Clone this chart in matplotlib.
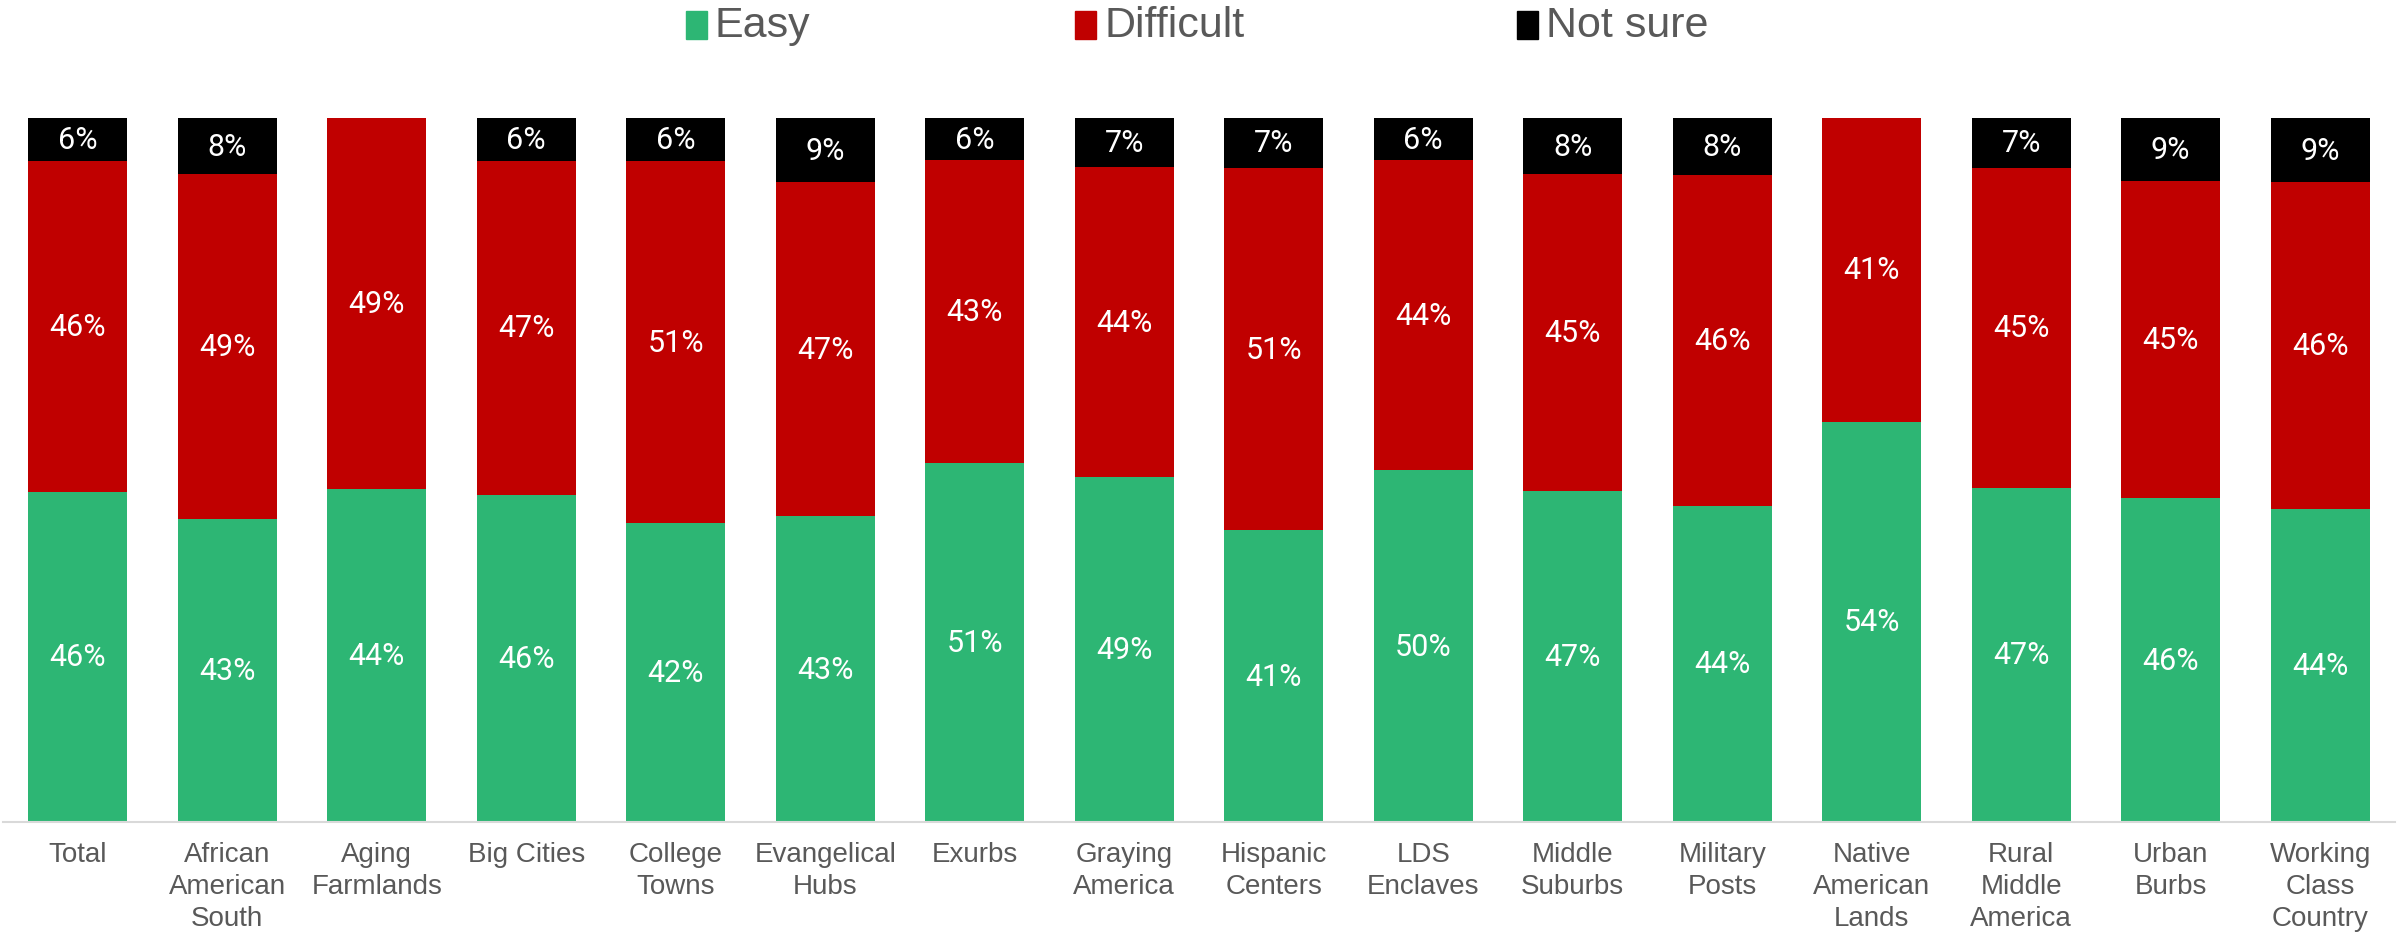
import matplotlib
matplotlib.use("Agg")
import matplotlib.pyplot as plt
from matplotlib.patches import Rectangle
import numpy as np

categories = ["Total", "African\nAmerican\nSouth", "Aging\nFarmlands", "Big Cities",
              "College\nTowns", "Evangelical\nHubs", "Exurbs", "Graying\nAmerica",
              "Hispanic\nCenters", "LDS\nEnclaves", "Middle\nSuburbs", "Military\nPosts",
              "Native\nAmerican\nLands", "Rural\nMiddle\nAmerica", "Urban\nBurbs",
              "Working\nClass\nCountry"]
easy = [46, 43, 44, 46, 42, 43, 51, 49, 41, 50, 47, 44, 54, 47, 46, 44]
difficult = [46, 49, 49, 47, 51, 47, 43, 44, 51, 44, 45, 46, 41, 45, 45, 46]
not_sure = [6, 8, 0, 6, 6, 9, 6, 7, 7, 6, 8, 8, 0, 7, 9, 9]

series = [("Easy", easy, "#2DB674"), ("Difficult", difficult, "#C00000"), ("Not sure", not_sure, "#000000")]

tick_font = ["Liberation Sans", "DejaVu Sans"]
val_font = ["Roboto", "DejaVu Sans"]
grey = "#595959"

fig = plt.figure(figsize=(24.07, 9.37), dpi=100)
ax = fig.add_axes([3 / 2407, 1 - 823 / 937, 2392 / 2407, (823 - 119) / 937])

x = np.arange(len(categories))
totals = np.array(easy) + np.array(difficult) + np.array(not_sure)
bottom = np.zeros(len(categories))
for name, vals, color in series:
    share = np.array(vals) / totals
    ax.bar(x, share, 0.66, bottom=bottom, color=color, edgecolor="none", label=name)
    for i, v in enumerate(vals):
        if v > 0:
            ax.text(x[i], bottom[i] + share[i] / 2, f"{v}%", ha="center", va="center",
                    color="white", fontsize=22, family=val_font)
    bottom += share

ax.set_xlim(-0.5, len(categories) - 0.5)
ax.set_ylim(0, 1)
ax.set_xticks(x)
ax.set_xticklabels(categories, fontsize=20, color=grey, family=tick_font, linespacing=1.3)
ax.tick_params(axis="x", length=0, pad=14)
ax.set_yticks([])
for s in ["top", "right", "left"]:
    ax.spines[s].set_visible(False)
ax.spines["bottom"].set_color("#D9D9D9")
ax.spines["bottom"].set_linewidth(1.5)

# legend drawn by hand (square + label), positions in pixels of the figure
W, H = 2407, 937
leg_x = [686, 1075, 1517]
for (name, _, color), lx in zip(series, leg_x):
    fig.patches.append(Rectangle((lx / W, 1 - 40 / H), 21 / W, 28 / H, color=color,
                                 transform=fig.transFigure))
    fig.text((lx + 29) / W, 1 - 26 / H, name, ha="left", va="center", fontsize=31,
             color=grey, family=tick_font)

fig.savefig("out.png", dpi=100)
